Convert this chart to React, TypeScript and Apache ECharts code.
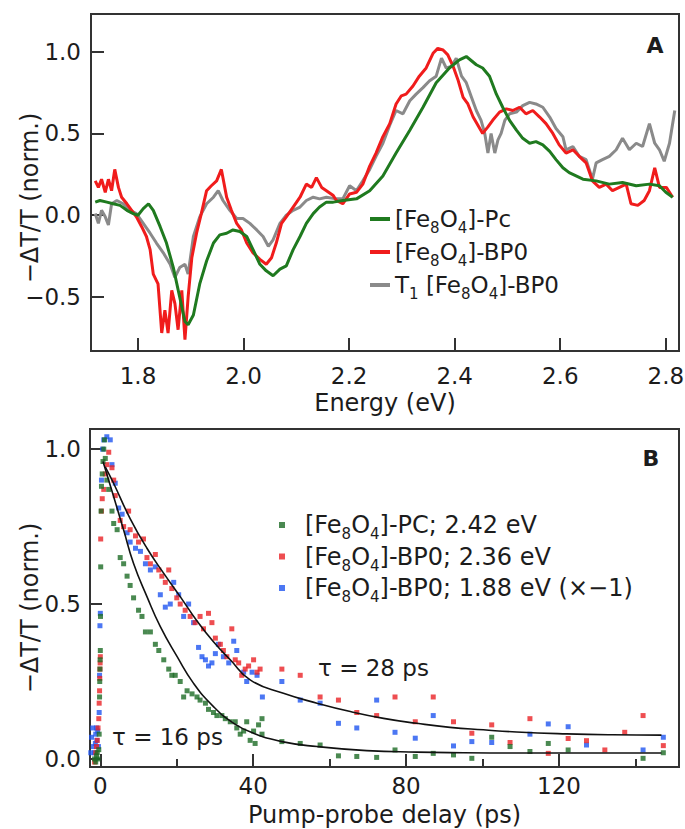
import React, { useEffect, useRef } from "react";
import * as echarts from "echarts";

// ---------- Panel A: spectra ----------
const energyTicks = [1.8, 2.0, 2.2, 2.4, 2.6, 2.8];
const spectrumTicks = [-0.5, 0, 0.5, 1.0];

const pcSpectrum: [number, number][] = [
  [1.719, 0.08], [1.728, 0.09], [1.741, 0.08], [1.753, 0.07], [1.766, 0.06], [1.779, 0.03], [1.791, 0.01],
  [1.8, 0.0], [1.81, 0.04], [1.82, 0.07], [1.829, 0.03], [1.842, -0.07], [1.854, -0.17], [1.867, -0.32],
  [1.879, -0.5], [1.889, -0.65], [1.895, -0.67], [1.905, -0.61], [1.917, -0.42], [1.93, -0.28], [1.943, -0.17],
  [1.955, -0.12], [1.968, -0.11], [1.98, -0.09], [1.993, -0.1], [2.006, -0.13], [2.018, -0.21], [2.031, -0.3],
  [2.043, -0.34], [2.056, -0.37], [2.069, -0.33], [2.081, -0.31], [2.094, -0.21], [2.107, -0.13], [2.119, -0.05],
  [2.132, 0.01], [2.144, 0.05], [2.157, 0.08], [2.17, 0.08], [2.188, 0.09], [2.214, 0.1], [2.239, 0.15],
  [2.264, 0.24], [2.289, 0.38], [2.315, 0.52], [2.34, 0.66], [2.365, 0.81], [2.39, 0.9], [2.409, 0.95],
  [2.422, 0.97], [2.441, 0.92], [2.453, 0.9], [2.466, 0.85], [2.479, 0.74], [2.491, 0.66], [2.504, 0.58],
  [2.517, 0.52], [2.529, 0.47], [2.542, 0.44], [2.554, 0.45], [2.567, 0.43], [2.58, 0.39], [2.592, 0.34],
  [2.605, 0.29], [2.617, 0.26], [2.643, 0.22], [2.668, 0.21], [2.693, 0.19], [2.718, 0.2], [2.744, 0.18],
  [2.769, 0.19], [2.788, 0.18], [2.8, 0.14], [2.813, 0.11],
];

const bp0Spectrum: [number, number][] = [
  [1.719, 0.21], [1.725, 0.17], [1.731, 0.22], [1.738, 0.14], [1.744, 0.22], [1.75, 0.15], [1.756, 0.28],
  [1.763, 0.17], [1.769, 0.11], [1.779, 0.07], [1.788, 0.03], [1.797, -0.01], [1.807, -0.07], [1.816, -0.13],
  [1.823, -0.21], [1.829, -0.36], [1.838, -0.42], [1.845, -0.72], [1.851, -0.58], [1.857, -0.72], [1.864, -0.46],
  [1.87, -0.54], [1.876, -0.7], [1.883, -0.46], [1.889, -0.76], [1.895, -0.5], [1.902, -0.26], [1.911, -0.11],
  [1.92, 0.01], [1.93, 0.15], [1.939, 0.18], [1.949, 0.21], [1.958, 0.28], [1.968, 0.11], [1.977, 0.03],
  [1.987, -0.05], [1.996, -0.09], [2.006, -0.17], [2.018, -0.23], [2.031, -0.27], [2.043, -0.3], [2.053, -0.26],
  [2.062, -0.17], [2.072, -0.05], [2.081, -0.01], [2.094, 0.05], [2.107, 0.11], [2.119, 0.19], [2.129, 0.17],
  [2.138, 0.23], [2.148, 0.17], [2.157, 0.15], [2.17, 0.12], [2.176, 0.09], [2.188, 0.07], [2.201, 0.13],
  [2.214, 0.14], [2.226, 0.19], [2.239, 0.3], [2.251, 0.38], [2.264, 0.48], [2.277, 0.56], [2.289, 0.68],
  [2.299, 0.73], [2.308, 0.74], [2.321, 0.79], [2.333, 0.85], [2.346, 0.9], [2.359, 0.99], [2.368, 1.02],
  [2.378, 1.01], [2.387, 0.98], [2.397, 0.91], [2.406, 0.83], [2.416, 0.72], [2.425, 0.68], [2.435, 0.6],
  [2.444, 0.55], [2.453, 0.5], [2.463, 0.54], [2.472, 0.58], [2.485, 0.63], [2.498, 0.65], [2.51, 0.64],
  [2.523, 0.66], [2.535, 0.62], [2.548, 0.64], [2.561, 0.6], [2.573, 0.56], [2.586, 0.5], [2.598, 0.43],
  [2.611, 0.38], [2.624, 0.4], [2.636, 0.36], [2.649, 0.32], [2.661, 0.21], [2.674, 0.17], [2.687, 0.19],
  [2.699, 0.15], [2.712, 0.17], [2.725, 0.19], [2.734, 0.07], [2.747, 0.06], [2.759, 0.09], [2.769, 0.15],
  [2.779, 0.29], [2.788, 0.17], [2.801, 0.17], [2.813, 0.11],
];

const t1Spectrum: [number, number][] = [
  [1.719, 0.01], [1.725, -0.05], [1.731, 0.03], [1.738, -0.01], [1.744, -0.06], [1.75, 0.07], [1.76, 0.09],
  [1.772, 0.07], [1.785, 0.03], [1.797, 0.01], [1.81, -0.05], [1.823, -0.11], [1.835, -0.17], [1.848, -0.23],
  [1.861, -0.3], [1.87, -0.38], [1.879, -0.32], [1.889, -0.3], [1.895, -0.36], [1.905, -0.13], [1.917, -0.01],
  [1.93, 0.07], [1.943, 0.11], [1.952, 0.15], [1.961, 0.09], [1.974, 0.03], [1.987, -0.02], [1.999, -0.02],
  [2.012, -0.05], [2.025, -0.09], [2.037, -0.13], [2.047, -0.19], [2.056, -0.15], [2.069, -0.05], [2.081, 0.0],
  [2.094, 0.03], [2.107, 0.05], [2.119, 0.09], [2.132, 0.11], [2.144, 0.1], [2.157, 0.11], [2.176, 0.1],
  [2.188, 0.1], [2.201, 0.18], [2.214, 0.15], [2.226, 0.21], [2.239, 0.28], [2.251, 0.36], [2.264, 0.44],
  [2.277, 0.55], [2.289, 0.64], [2.302, 0.62], [2.315, 0.7], [2.327, 0.74], [2.34, 0.78], [2.352, 0.82],
  [2.365, 0.85], [2.375, 0.96], [2.384, 0.9], [2.394, 0.91], [2.403, 0.96], [2.413, 0.85], [2.422, 0.81],
  [2.432, 0.72], [2.441, 0.64], [2.45, 0.58], [2.457, 0.5], [2.463, 0.38], [2.469, 0.5], [2.476, 0.38],
  [2.482, 0.46], [2.488, 0.5], [2.495, 0.58], [2.504, 0.62], [2.517, 0.63], [2.529, 0.67], [2.542, 0.69],
  [2.554, 0.68], [2.567, 0.66], [2.58, 0.6], [2.592, 0.53], [2.605, 0.48], [2.611, 0.4], [2.624, 0.42],
  [2.636, 0.36], [2.649, 0.34], [2.661, 0.22], [2.668, 0.32], [2.68, 0.34], [2.693, 0.36], [2.706, 0.4],
  [2.718, 0.47], [2.731, 0.4], [2.744, 0.44], [2.756, 0.42], [2.769, 0.56], [2.779, 0.44], [2.788, 0.4],
  [2.797, 0.33], [2.807, 0.44], [2.817, 0.64],
];

// ---------- Panel B: kinetics ----------
const delayTicks = [0, 40, 80, 120];
const delayMinorTicks = [20, 60, 100, 140];
const kineticTicks = [0, 0.5, 1.0];

const pcKinetics: [number, number][] = [
  [-1.5, 0.0], [-1.2, -0.01], [-1.0, 0.01], [-0.8, 0.02], [-0.6, 0.0], [-0.4, 0.03], [-0.3, 0.08],
  [-0.2, 0.2], [-0.15, 0.25], [-0.1, 0.29], [-0.05, 0.32], [0.0, 0.35], [0.05, 0.46], [0.1, 0.62],
  [0.2, 0.8], [0.3, 0.88], [0.5, 0.92], [0.7, 0.96], [0.9, 1.0], [1.1, 1.03], [1.3, 0.97],
  [1.7, 0.9], [2.2, 0.87], [3.05, 0.8], [3.5, 0.76], [4.4, 0.74], [5.2, 0.65], [6.1, 0.63], [7.0, 0.59],
  [7.8, 0.56], [8.7, 0.52], [10.0, 0.48], [10.9, 0.46], [11.8, 0.41], [13.1, 0.41], [14.4, 0.37],
  [15.3, 0.35], [16.6, 0.32], [17.9, 0.29], [18.7, 0.27], [19.6, 0.27], [20.9, 0.25], [21.8, 0.2],
  [22.7, 0.22], [24.0, 0.21], [25.3, 0.2], [26.1, 0.19], [27.5, 0.18], [28.3, 0.16], [29.6, 0.15],
  [30.5, 0.14], [31.8, 0.14], [32.7, 0.13], [34.0, 0.12], [35.3, 0.12], [35.7, 0.1], [36.6, 0.08],
  [37.5, 0.09], [38.3, 0.12], [39.2, 0.06], [40.1, 0.09], [40.5, 0.05], [41.4, 0.11], [42.3, 0.08],
  [42.3, 0.13], [47.5, 0.056], [52.3, 0.05], [57.5, 0.045], [62.3, 0.01], [67.1, 0.008], [72.3, 0.005],
  [77.1, 0.029], [82.4, 0.008], [87.1, 0.018], [92.4, 0.013], [97.2, 0.002], [102.4, 0.07], [107.2, 0.04],
  [112.4, 0.024], [117.2, 0.05], [122.4, 0.029], [142.0, 0.002], [147.3, 0.02],
];

const bp0Kinetics: [number, number][] = [
  [-1.5, -0.01], [-1.2, 0.02], [-1.0, 0.04], [-0.8, 0.06], [-0.6, 0.1], [-0.4, 0.13], [-0.3, 0.18],
  [-0.2, 0.22], [-0.15, 0.26], [-0.1, 0.29], [-0.05, 0.31], [0.0, 0.33], [0.1, 0.71], [0.3, 0.8],
  [0.5, 0.84], [0.9, 0.87], [1.3, 0.92], [1.7, 0.95], [2.2, 0.99], [3.05, 0.94], [3.5, 0.9], [3.9, 0.85],
  [5.2, 0.77], [6.1, 0.75], [7.4, 0.8], [7.8, 0.74], [9.2, 0.72], [10.0, 0.7], [11.3, 0.71], [12.2, 0.65],
  [13.1, 0.63], [14.4, 0.66], [15.3, 0.61], [16.1, 0.59], [17.0, 0.57], [17.9, 0.61], [18.7, 0.55],
  [20.0, 0.52], [20.9, 0.5], [22.2, 0.48], [23.5, 0.46], [24.8, 0.44], [26.1, 0.46], [27.0, 0.42],
  [28.3, 0.47], [29.2, 0.44], [30.1, 0.39], [31.4, 0.37], [32.2, 0.35], [33.1, 0.33], [34.4, 0.42],
  [35.3, 0.32], [36.2, 0.31], [37.0, 0.27], [37.9, 0.29], [38.8, 0.3], [40.1, 0.32], [41.0, 0.28],
  [41.8, 0.29], [47.5, 0.29], [52.3, 0.27], [57.5, 0.2], [62.3, 0.19], [67.1, 0.15], [72.3, 0.14],
  [77.1, 0.2], [82.4, 0.12], [87.1, 0.2], [92.4, 0.12], [97.2, 0.083], [102.4, 0.11], [107.2, 0.053],
  [112.4, 0.13], [117.2, 0.018], [122.4, 0.066], [127.2, 0.059], [132.0, 0.029], [137.2, 0.086],
  [142.0, 0.14], [147.3, 0.043],
];

const bp0NegKinetics: [number, number][] = [
  [-2.5, 0.02], [-2.3, 0.07], [-2.0, 0.1], [-1.8, 0.04], [-1.5, 0.02], [-1.3, 0.05], [-1.2, 0.08],
  [-1.0, 0.1], [-0.9, 0.06], [-0.7, 0.09], [-0.5, 0.04], [-0.3, 0.15], [-0.2, 0.27], [-0.1, 0.43],
  [0.0, 0.47], [0.3, 0.9], [0.6, 1.0], [0.9, 1.03], [1.7, 1.04], [2.6, 1.03], [3.05, 0.95], [3.9, 0.89],
  [4.8, 0.81], [5.7, 0.79], [7.0, 0.73], [7.8, 0.7], [9.2, 0.68], [10.5, 0.67], [11.8, 0.63], [13.1, 0.61],
  [14.4, 0.62], [15.7, 0.53], [17.0, 0.49], [18.3, 0.5], [19.2, 0.57], [20.5, 0.53], [21.8, 0.46],
  [23.1, 0.5], [24.4, 0.44], [25.7, 0.36], [26.6, 0.33], [27.5, 0.32], [28.3, 0.3], [29.2, 0.31],
  [30.1, 0.34], [30.9, 0.37], [32.2, 0.33], [33.6, 0.31], [34.9, 0.38], [35.7, 0.35], [37.5, 0.28],
  [38.3, 0.25], [39.7, 0.28], [41.0, 0.27], [42.4, 0.2], [47.5, 0.25], [52.3, 0.19], [57.5, 0.18],
  [62.3, 0.115], [67.1, 0.1], [72.3, 0.19], [77.1, 0.086], [82.4, 0.067], [87.1, 0.14], [92.4, 0.042],
  [97.2, 0.056], [102.4, 0.053], [112.4, 0.08], [117.2, 0.113], [122.4, 0.104], [127.2, 0.045],
  [142.0, 0.029], [147.3, 0.07],
];

// fitted curves
const fit28ps: [number, number][] = [
  [1.3, 0.943], [3.5, 0.889], [7.8, 0.776], [12.2, 0.68], [16.6, 0.599], [20.9, 0.524], [25.3, 0.445],
  [29.6, 0.378], [34.0, 0.32], [39.2, 0.255], [47.9, 0.212], [56.7, 0.18], [65.4, 0.153], [74.1, 0.131],
  [82.8, 0.115], [91.5, 0.102], [100.2, 0.094], [108.9, 0.087], [122.0, 0.081], [134.0, 0.078], [146.8, 0.077],
];
const fit16ps: [number, number][] = [
  [0.7, 0.96], [3.5, 0.846], [6.1, 0.739], [8.7, 0.631], [12.2, 0.524], [15.7, 0.427], [20.1, 0.33],
  [24.4, 0.244], [29.6, 0.169], [34.9, 0.115], [40.1, 0.083], [47.5, 0.056], [56.7, 0.04], [69.7, 0.027],
  [82.8, 0.022], [95.0, 0.02], [108.9, 0.019], [125.0, 0.019], [146.8, 0.019],
];

const FONT = "DejaVu Sans";
const INK = "#1c1c1c";
const FRAME = "#333333";
const GREEN = "#1f7a1f";
const RED = "#f01c1c";
const GRAY = "#8a8a8a";
const BLUE = "#1f55f0";
const SGREEN = "#1d6b26";
const SRED = "#ea2226";

const N_PC = "[Fe8O4]-Pc";
const N_BP = "[Fe8O4]-BP0";
const N_T1 = "T1 [Fe8O4]-BP0";
const K_PC = "[Fe8O4]-PC; 2.42 eV";
const K_BP = "[Fe8O4]-BP0; 2.36 eV";
const K_BN = "[Fe8O4]-BP0; 1.88 eV (×−1)";
const Y_NAME = "\u2212\u0394T/T (norm.)";

const richNames: Record<string, string> = {
  [N_PC]: "[Fe{s|8}O{s|4}]-Pc",
  [N_BP]: "[Fe{s|8}O{s|4}]-BP0",
  [N_T1]: "T{s|1} [Fe{s|8}O{s|4}]-BP0",
  [K_PC]: "[Fe{s|8}O{s|4}]-PC; 2.42 eV",
  [K_BP]: "[Fe{s|8}O{s|4}]-BP0; 2.36 eV",
  [K_BN]: "[Fe{s|8}O{s|4}]-BP0; 1.88 eV (×−1)",
};

const fmtNum = (v: number) => (v < 0 ? "\u2212" : "") + Math.abs(v).toFixed(1);

export default function App() {
  const ref = useRef<HTMLDivElement>(null);
  useEffect(() => {
    if (!ref.current) return;
    const chart = echarts.init(ref.current, undefined, { renderer: "svg" });
    const tickLabel = { fontFamily: FONT, fontSize: 23, color: INK };
    const nameStyle = { fontFamily: FONT, fontSize: 24, color: INK };
    const subRich = { s: { fontFamily: FONT, fontSize: 15, verticalAlign: "bottom", height: 12 } };
    const hiddenLine = { show: false, onZero: false };
    const option: any = {
      animation: false,
      backgroundColor: "#ffffff",
      grid: [
        { left: 91, top: 14, width: 588, height: 337, show: true, borderColor: FRAME, borderWidth: 2, backgroundColor: "transparent", outerBoundsMode: "none", containLabel: false },
        { left: 90, top: 429, width: 589, height: 338, show: true, borderColor: FRAME, borderWidth: 2, backgroundColor: "transparent", outerBoundsMode: "none", containLabel: false },
      ],
      xAxis: [
        {
          gridIndex: 0, type: "value", min: 1.711, max: 2.825, position: "bottom",
          axisLine: hiddenLine,
          axisTick: { inside: true, length: 13, customValues: energyTicks, lineStyle: { color: FRAME, width: 2 } },
          axisLabel: { customValues: energyTicks, formatter: fmtNum, margin: 13, ...tickLabel },
          splitLine: { show: false },
          name: "Energy (eV)", nameLocation: "middle", nameGap: 40, nameTextStyle: nameStyle,
        },
        {
          gridIndex: 1, type: "value", min: -2.7, max: 151.4, position: "bottom",
          axisLine: hiddenLine,
          axisTick: { inside: true, length: 13, customValues: delayTicks, lineStyle: { color: FRAME, width: 2 } },
          axisLabel: { customValues: delayTicks, formatter: (v: number) => String(v), margin: 7, ...tickLabel },
          splitLine: { show: false },
          name: "Pump-probe delay (ps)", nameLocation: "middle", nameGap: 36, nameTextStyle: nameStyle,
        },
        {
          gridIndex: 1, type: "value", min: -2.7, max: 151.4, position: "bottom",
          axisLine: hiddenLine,
          axisTick: { inside: true, length: 8, customValues: delayMinorTicks, lineStyle: { color: FRAME, width: 2 } },
          axisLabel: { show: false },
          splitLine: { show: false },
        },
      ],
      yAxis: [
        {
          gridIndex: 0, type: "value", min: -0.83, max: 1.23, position: "left",
          axisLine: hiddenLine,
          axisTick: { inside: true, length: 13, customValues: spectrumTicks, lineStyle: { color: FRAME, width: 2 } },
          axisLabel: { customValues: spectrumTicks, formatter: fmtNum, margin: 10, ...tickLabel },
          splitLine: { show: false },
        },
        {
          gridIndex: 1, type: "value", min: -0.026, max: 1.065, position: "left",
          axisLine: hiddenLine,
          axisTick: { inside: true, length: 12, customValues: kineticTicks, lineStyle: { color: FRAME, width: 2 } },
          axisLabel: { customValues: kineticTicks, formatter: fmtNum, margin: 9, ...tickLabel },
          splitLine: { show: false },
        },
      ],
      legend: [
        {
          data: [N_PC, N_BP, N_T1], orient: "vertical", left: 365, top: 199,
          itemWidth: 20, itemHeight: 4, itemGap: 1.5, icon: "rect",
          formatter: (n: string) => richNames[n],
          textStyle: { fontFamily: FONT, fontSize: 23, color: INK, lineHeight: 30, rich: subRich },
        },
        {
          data: [K_PC, K_BP, K_BN], orient: "vertical", left: 274, top: 505,
          itemWidth: 36, itemHeight: 6, itemGap: 0, icon: "path://M0,0L10,0L10,10L0,10Z",
          formatter: (n: string) => richNames[n],
          textStyle: { fontFamily: FONT, fontSize: 24, color: INK, lineHeight: 30, rich: subRich },
        },
      ],
      series: [
        { name: N_T1, type: "line", xAxisIndex: 0, yAxisIndex: 0, data: t1Spectrum, showSymbol: false, color: GRAY, lineStyle: { width: 3, color: GRAY } },
        { name: N_BP, type: "line", xAxisIndex: 0, yAxisIndex: 0, data: bp0Spectrum, showSymbol: false, color: RED, lineStyle: { width: 3, color: RED } },
        { name: N_PC, type: "line", xAxisIndex: 0, yAxisIndex: 0, data: pcSpectrum, showSymbol: false, color: GREEN, lineStyle: { width: 3, color: GREEN } },
        { name: K_BN, type: "scatter", xAxisIndex: 1, yAxisIndex: 1, data: bp0NegKinetics, symbol: "rect", symbolSize: 5, itemStyle: { color: BLUE } },
        { name: K_BP, type: "scatter", xAxisIndex: 1, yAxisIndex: 1, data: bp0Kinetics, symbol: "rect", symbolSize: 5, itemStyle: { color: SRED } },
        { name: K_PC, type: "scatter", xAxisIndex: 1, yAxisIndex: 1, data: pcKinetics, symbol: "rect", symbolSize: 5, itemStyle: { color: SGREEN } },
        { name: "fit τ = 28 ps", type: "line", xAxisIndex: 1, yAxisIndex: 1, data: fit28ps, smooth: true, showSymbol: false, color: "#111", lineStyle: { width: 1.6, color: "#111" }, z: 5 },
        { name: "fit τ = 16 ps", type: "line", xAxisIndex: 1, yAxisIndex: 1, data: fit16ps, smooth: true, showSymbol: false, color: "#111", lineStyle: { width: 1.6, color: "#111" }, z: 5 },
      ],
      graphic: [
        { type: "text", x: 30, y: 198, rotation: Math.PI / 2, style: { text: Y_NAME, fontFamily: FONT, fontSize: 24, fill: INK, align: "center", verticalAlign: "middle" } },
        { type: "text", x: 30, y: 608, rotation: Math.PI / 2, style: { text: Y_NAME, fontFamily: FONT, fontSize: 24, fill: INK, align: "center", verticalAlign: "middle" } },
        { type: "text", x: 655, y: 45, style: { text: "A", fontFamily: FONT, fontSize: 22, fontWeight: "bold", fill: INK, align: "center", verticalAlign: "middle" } },
        { type: "text", x: 651, y: 458, style: { text: "B", fontFamily: FONT, fontSize: 22, fontWeight: "bold", fill: INK, align: "center", verticalAlign: "middle" } },
        { type: "text", x: 318, y: 668, style: { text: "τ = 28 ps", fontFamily: FONT, fontSize: 23, fill: INK, align: "left", verticalAlign: "middle" } },
        { type: "text", x: 112, y: 737, style: { text: "τ = 16 ps", fontFamily: FONT, fontSize: 23, fill: INK, align: "left", verticalAlign: "middle" } },
      ],
    };
    chart.setOption(option);
    return () => chart.dispose();
  }, []);
  return (
    <div
      ref={ref}
      style={{ position: "absolute", left: 0, top: 0, width: 685, height: 829, background: "#fff" }}
    />
  );
}
